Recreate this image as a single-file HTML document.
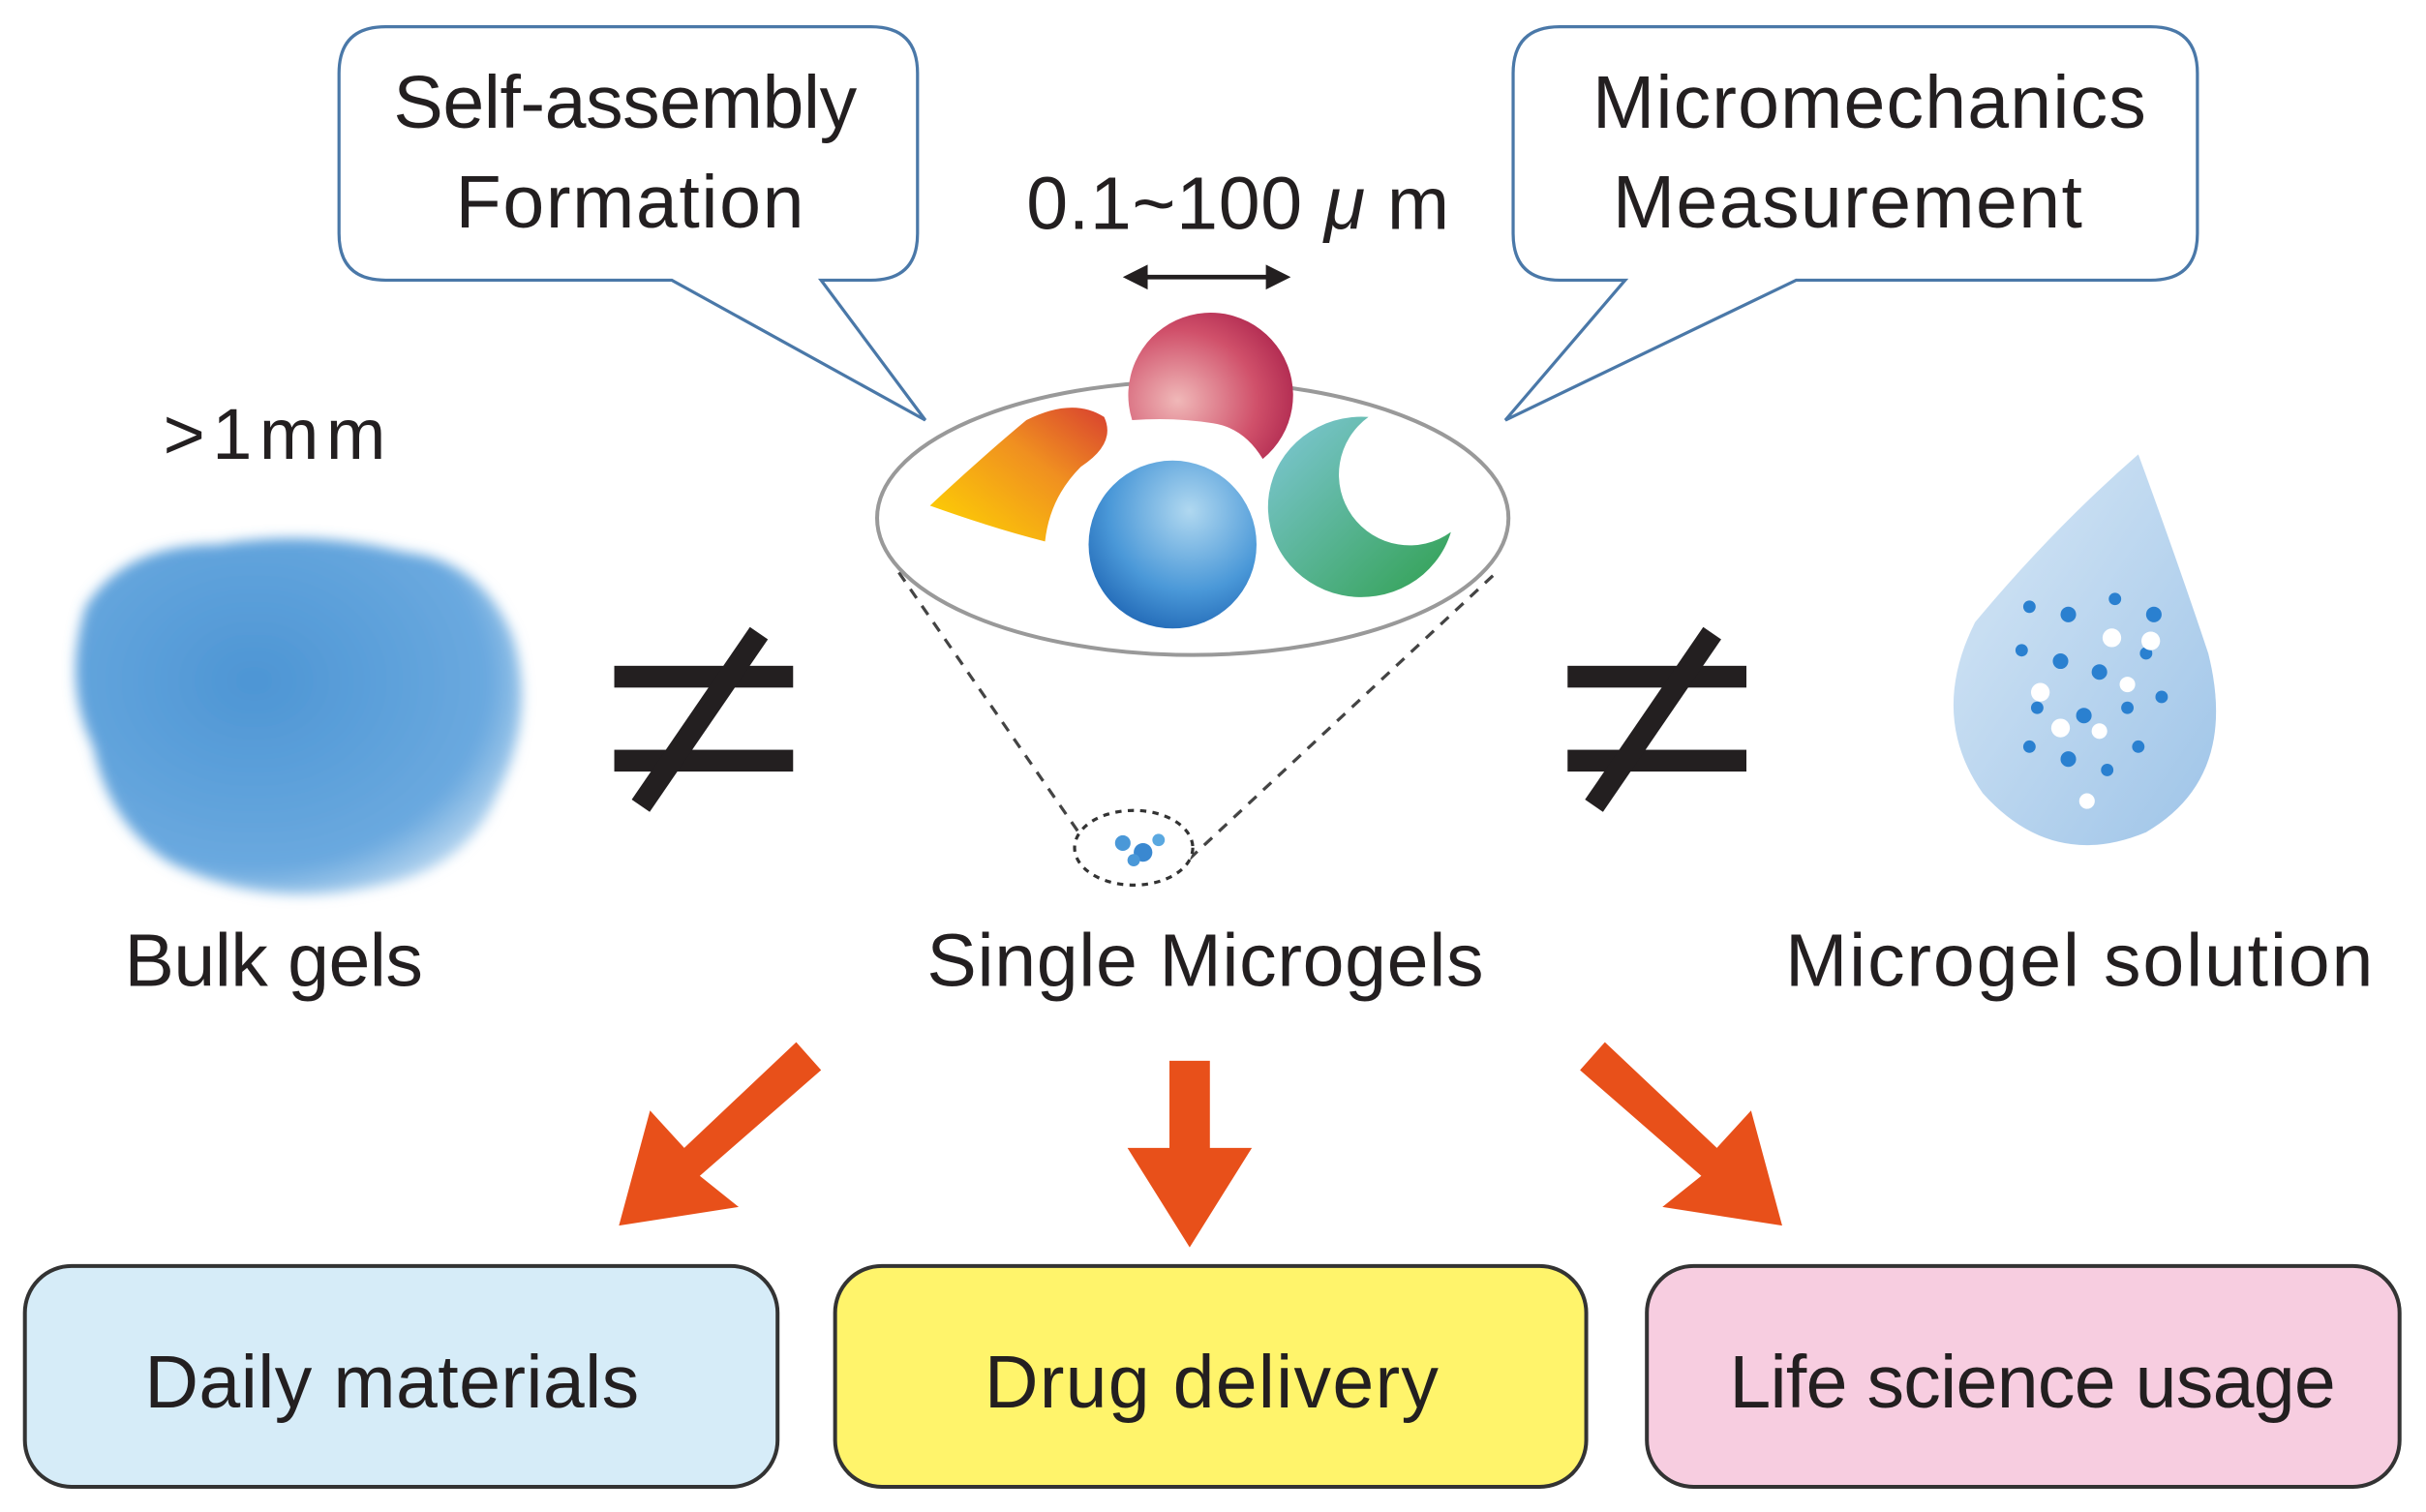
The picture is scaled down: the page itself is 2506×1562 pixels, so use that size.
<!DOCTYPE html>
<html><head><meta charset="utf-8"><style>
html,body{margin:0;padding:0;background:#fff;}
svg{display:block;}
text{font-family:"Liberation Sans","DejaVu Sans",sans-serif;fill:#231f20;}
</style></head><body>
<svg width="2506" height="1562" viewBox="0 0 1560 972" xmlns="http://www.w3.org/2000/svg">
<defs>
<radialGradient id="red" cx="0.3" cy="0.6" r="0.8"><stop offset="0" stop-color="#f0b8b8"/><stop offset="0.6" stop-color="#d0506a"/><stop offset="1" stop-color="#a8204a"/></radialGradient>
<radialGradient id="blue" cx="0.6" cy="0.3" r="0.8"><stop offset="0" stop-color="#b0d8f0"/><stop offset="0.6" stop-color="#4a98d8"/><stop offset="1" stop-color="#1a60b0"/></radialGradient>
<linearGradient id="yel" x1="0" y1="1" x2="1" y2="0"><stop offset="0" stop-color="#ffd800"/><stop offset="0.6" stop-color="#f09020"/><stop offset="1" stop-color="#d84030"/></linearGradient>
<linearGradient id="grn" x1="0" y1="0" x2="1" y2="1"><stop offset="0" stop-color="#80c8d8"/><stop offset="1" stop-color="#30a050"/></linearGradient>
<radialGradient id="bulk" cx="0.4" cy="0.4" r="0.7"><stop offset="0" stop-color="#3a8ad0"/><stop offset="0.75" stop-color="#5aa0dc"/><stop offset="1" stop-color="#c8e0f4"/></radialGradient>
<linearGradient id="drop" x1="0" y1="0" x2="1" y2="1"><stop offset="0" stop-color="#d8e8f6"/><stop offset="1" stop-color="#9ec4e8"/></linearGradient>
<filter id="blur"><feGaussianBlur stdDeviation="4"/></filter>
</defs>

<path d="M248,17 H560 Q590,17 590,47 V150 Q590,180 560,180 H528 L595,270 L432,180 H248 Q218,180 218,150 V47 Q218,17 248,17 Z" fill="#fff" stroke="#4a78a8" stroke-width="2"/>
<text x="402" y="82" font-size="48" text-anchor="middle" textLength="298">Self-assembly</text>
<text x="405" y="146" font-size="48" text-anchor="middle" textLength="224">Formation</text>
<path d="M1003,17 H1383 Q1413,17 1413,47 V150 Q1413,180 1383,180 H1155 L968,270 L1045,180 H1003 Q973,180 973,150 V47 Q973,17 1003,17 Z" fill="#fff" stroke="#4a78a8" stroke-width="2"/>
<text x="1202" y="82" font-size="48" text-anchor="middle" textLength="356">Micromechanics</text>
<text x="1188" y="146" font-size="48" text-anchor="middle" textLength="302">Measurement</text>

<text x="660" y="147" font-size="48" textLength="272">0.1~100<tspan font-style="italic"> μ</tspan> m</text>
<line x1="732" y1="178" x2="820" y2="178" stroke="#231f20" stroke-width="3"/>
<path d="M722,178 L738,170 L738,186 Z M830,178 L814,170 L814,186 Z" fill="#231f20"/>

<text x="105" y="295" font-size="46" textLength="143">&gt;1mm</text>

<g filter="url(#blur)">
<path d="M55,390 Q80,350 140,350 Q200,340 260,355 Q310,360 330,410 Q345,460 320,510 Q300,560 240,570 Q170,585 110,555 Q70,530 60,480 Q40,440 55,390 Z" fill="url(#bulk)" opacity="0.9"/>
</g>

<rect x="395" y="428" width="115" height="14" fill="#231f20"/>
<rect x="395" y="482" width="115" height="14" fill="#231f20"/>
<line x1="488" y1="407" x2="412" y2="518" stroke="#231f20" stroke-width="14"/>
<rect x="1008" y="428" width="115" height="14" fill="#231f20"/>
<rect x="1008" y="482" width="115" height="14" fill="#231f20"/>
<line x1="1101" y1="407" x2="1025" y2="518" stroke="#231f20" stroke-width="14"/>

<line x1="578" y1="368" x2="697" y2="540" stroke="#444" stroke-width="2" stroke-dasharray="7,6"/>
<line x1="960" y1="370" x2="765" y2="552" stroke="#444" stroke-width="2" stroke-dasharray="7,6"/>
<ellipse cx="767" cy="333" rx="203" ry="88" fill="#fff" stroke="#999" stroke-width="2.5"/>
<ellipse cx="729" cy="545" rx="38" ry="24" fill="#fff" stroke="#333" stroke-width="2" stroke-dasharray="4,4"/>
<circle cx="722" cy="542" r="5" fill="#4a98d8"/><circle cx="735" cy="548" r="6" fill="#3a88d0"/><circle cx="745" cy="540" r="4" fill="#5aa8e0"/><circle cx="729" cy="553" r="4" fill="#4a98d8"/>

<path d="M728,270 A53,53 0 1 1 812,295 Q800,275 780,272 Q755,268 728,270 Z" fill="url(#red)"/>
<path d="M598,325 Q630,295 660,270 Q690,255 710,268 Q718,285 695,300 Q675,320 672,348 Q640,340 598,325 Z" fill="url(#yel)"/>
<circle cx="754" cy="350" r="54" fill="url(#blue)"/>
<path d="M880,268 A60,58 0 1 0 933,342 A45,45 0 1 1 880,268 Z" fill="url(#grn)"/>

<path d="M1375,292 Q1400,360 1420,420 Q1440,500 1380,535 Q1320,560 1275,510 Q1240,460 1270,400 Q1320,340 1375,292 Z" fill="url(#drop)"/>
<g fill="#2a80d0">
<circle cx="1305" cy="390" r="4"/><circle cx="1330" cy="395" r="5"/><circle cx="1360" cy="385" r="4"/><circle cx="1385" cy="395" r="5"/>
<circle cx="1300" cy="418" r="4"/><circle cx="1325" cy="425" r="5"/><circle cx="1350" cy="432" r="5"/><circle cx="1380" cy="420" r="4"/>
<circle cx="1310" cy="455" r="4"/><circle cx="1340" cy="460" r="5"/><circle cx="1368" cy="455" r="4"/><circle cx="1390" cy="448" r="4"/>
<circle cx="1305" cy="480" r="4"/><circle cx="1330" cy="488" r="5"/><circle cx="1355" cy="495" r="4"/><circle cx="1375" cy="480" r="4"/>
</g>
<g fill="#fff">
<circle cx="1312" cy="445" r="6"/><circle cx="1325" cy="468" r="6"/><circle cx="1358" cy="410" r="6"/><circle cx="1383" cy="412" r="6"/><circle cx="1350" cy="470" r="5"/><circle cx="1342" cy="515" r="5"/><circle cx="1368" cy="440" r="5"/>
</g>

<text x="80" y="634" font-size="48" textLength="192">Bulk gels</text>
<text x="596" y="634" font-size="48" textLength="358">Single Microgels</text>
<text x="1148" y="634" font-size="48" textLength="378">Microgel solution</text>

<g fill="#e8501a">
<path d="M512,670 L528,688 L450,756 L475,776 L398,788 L418,714 L440,738 Z"/>
<rect x="752" y="682" width="26" height="60"/>
<path d="M725,738 L805,738 L765,802 Z"/>
<path d="M1032,670 L1016,688 L1094,756 L1069,776 L1146,788 L1126,714 L1104,738 Z"/>
</g>

<rect x="16" y="814" width="484" height="142" rx="30" fill="#d6ecf8" stroke="#333" stroke-width="2.5"/>
<rect x="537" y="814" width="483" height="142" rx="30" fill="#fff46b" stroke="#333" stroke-width="2.5"/>
<rect x="1059" y="814" width="484" height="142" rx="30" fill="#f7cde0" stroke="#333" stroke-width="2.5"/>
<text x="252" y="905" font-size="48" text-anchor="middle" textLength="318">Daily materials</text>
<text x="779" y="905" font-size="48" text-anchor="middle" textLength="292">Drug delivery</text>
<text x="1307" y="905" font-size="48" text-anchor="middle" textLength="390">Life science usage</text>
</svg>
</body></html>
